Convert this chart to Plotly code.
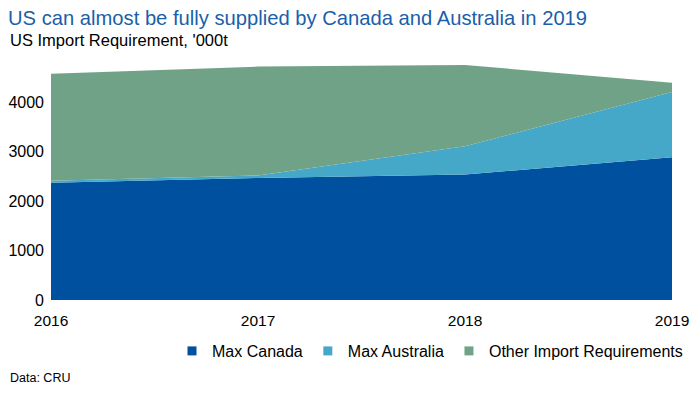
import plotly.graph_objects as go

years = [2016, 2017, 2018, 2019]
max_canada = [2376, 2470, 2538, 2890]
max_australia = [40, 50, 575, 1320]
other_import = [2166, 2205, 1644, 190]

series_names = ["Max Canada", "Max Australia", "Other Import Requirements"]
series_colors = ["#0050a0", "#46a8c8", "#70a288"]

FONT = "Liberation Sans, Arial, sans-serif"
# the page body has an 8px margin on every side, so the figure is kept smaller
# than the window to avoid scrollbars / clipping
W, H = 690, 377
L, R, T, B = 43, 26, 45, 85
PW, PH = W - L - R, H - T - B


def px_x(x):
    return (x - L) / PW


def px_y(y):
    return (H - B - y) / PH


fig = go.Figure()
for name, vals, col in zip(series_names, [max_canada, max_australia, other_import], series_colors):
    fig.add_trace(go.Scatter(
        x=years, y=vals, name=name, mode="lines",
        stackgroup="one", line=dict(width=0, color=col), fillcolor=col,
        hoverinfo="x+y+name", showlegend=False, legendgroup=name,
    ))
# legend entries (small squares, as in the reference)
for name, col in zip(series_names, series_colors):
    fig.add_trace(go.Scatter(
        x=[None], y=[None], name=name, mode="markers", legendgroup=name,
        marker=dict(symbol="square", size=9, color=col), showlegend=True,
    ))

fig.update_layout(
    width=W, height=H,
    margin=dict(l=L, r=R, t=T, b=B, autoexpand=False),
    paper_bgcolor="white", plot_bgcolor="white",
    font=dict(family=FONT, size=16, color="#000000"),
    title=dict(text="US can almost be fully supplied by Canada and Australia in 2019",
               xref="container", yref="container", x=0, xanchor="left",
               y=1 - 10 / H, yanchor="middle", pad=dict(t=0, b=0, l=0, r=0),
               font=dict(family=FONT, size=20.2, color="#1a5fa8")),
    showlegend=True,
    legend=dict(orientation="h", xref="container", yref="container",
                x=164 / W, xanchor="left", y=1 - 343 / H, yanchor="middle",
                font=dict(size=16), itemwidth=30, traceorder="normal",
                bgcolor="rgba(0,0,0,0)"),
    xaxis=dict(range=[2016, 2019], tickvals=years, ticktext=[str(y) for y in years],
               showgrid=False, zeroline=False, showline=False, ticks="",
               tickfont=dict(size=15.5), fixedrange=True, automargin=False,
               ticklabelstandoff=9, ticklabeloverflow="allow"),
    yaxis=dict(range=[0, 5000], tickvals=[0, 1000, 2000, 3000, 4000], showgrid=False,
               zeroline=False, showline=False, ticks="", tickfont=dict(size=16),
               fixedrange=True, automargin=False, ticklabelstandoff=6,
               ticklabeloverflow="allow"),
    annotations=[
        dict(text="US Import Requirement, '000t", xref="paper", yref="paper",
             x=px_x(0), y=px_y(32), xanchor="left", yanchor="middle",
             showarrow=False, font=dict(size=16.5, color="#000000")),
        dict(text="Data: CRU", xref="paper", yref="paper", x=px_x(0),
             y=px_y(370), xanchor="left", yanchor="middle", showarrow=False,
             font=dict(size=12.5, color="#000000")),
    ],
)

fig.write_html("out.html")
